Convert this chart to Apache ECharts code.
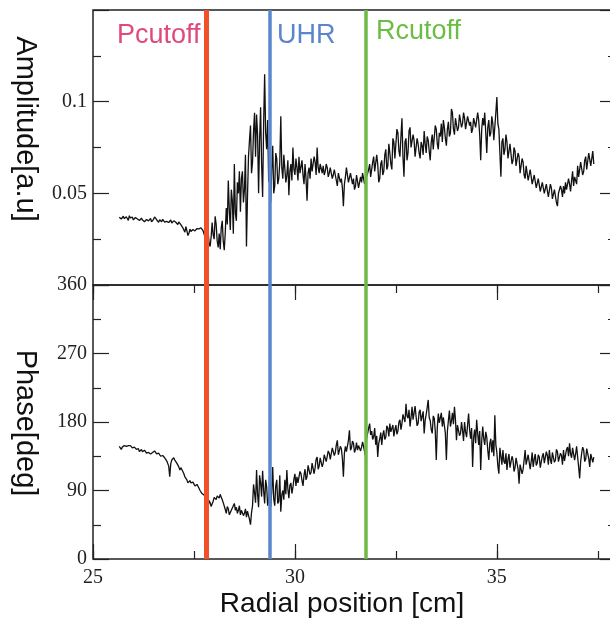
<!DOCTYPE html>
<html>
<head>
<meta charset="utf-8">
<script src="https://cdn.jsdelivr.net/npm/echarts@6/dist/echarts.min.js"></script>
<style>
html,body{margin:0;padding:0;background:#fff;}
#chart{width:610px;height:621px;}
</style>
</head>
<body>
<div id="chart"></div>
<script>
// ---- data (sampled every 0.025 cm starting at 25.65 cm) ----
const radialStart = 25.65;
const radialStep = 0.025;

const amplitude = [
  0.037, 0.0378, 0.036, 0.0368, 0.0375, 0.0362, 0.036, 0.0372, 0.0365, 0.0352,
  0.0378, 0.0366, 0.0362, 0.0370, 0.0355, 0.0348, 0.0368, 0.0359, 0.0360, 0.0366,
  0.0352, 0.0360, 0.0365, 0.0354, 0.0358, 0.0345, 0.0348, 0.0357, 0.0362, 0.0350,
  0.0355, 0.0363, 0.0345, 0.0352, 0.0358, 0.0371, 0.0368, 0.0356, 0.0350, 0.0342,
  0.0356, 0.0349, 0.0345, 0.0358, 0.0352, 0.0343, 0.0340, 0.0347, 0.0355, 0.0341,
  0.0348, 0.0355, 0.0338, 0.0332, 0.0350, 0.0356, 0.0342, 0.0335, 0.0330, 0.0344,
  0.0338, 0.0329, 0.0325, 0.0312, 0.0300, 0.0288, 0.0318, 0.0296, 0.0270, 0.0282,
  0.0305, 0.0292, 0.0285, 0.0303, 0.0310, 0.0295, 0.0298, 0.0308, 0.0315, 0.0306,
  0.0302, 0.0312, 0.0318, 0.0296, 0.0290, 0.0262, 0.0235, 0.0270, 0.0290, 0.0228,
  0.0210, 0.0262, 0.0340, 0.0275, 0.0250, 0.0375, 0.0330, 0.0240, 0.0205, 0.0280,
  0.0195, 0.0310, 0.0350, 0.0240, 0.0190, 0.0285, 0.0420, 0.0330, 0.0570, 0.0410,
  0.0300, 0.0520, 0.0460, 0.0280, 0.0660, 0.0390, 0.0350, 0.0560, 0.0500, 0.0620,
  0.040, 0.058, 0.062, 0.045, 0.052, 0.071, 0.021, 0.048, 0.070, 0.079,
  0.087, 0.061, 0.067, 0.084, 0.094, 0.070, 0.093, 0.082, 0.050, 0.079,
  0.097, 0.066, 0.048, 0.088, 0.115, 0.083, 0.074, 0.090, 0.056, 0.068,
  0.045, 0.063, 0.076, 0.050, 0.054, 0.072, 0.069, 0.055, 0.058, 0.067,
  0.092, 0.064, 0.058, 0.071, 0.070, 0.056, 0.060, 0.068, 0.049, 0.062,
  0.066, 0.057, 0.075, 0.063, 0.060, 0.069, 0.064, 0.057, 0.070, 0.061,
  0.062, 0.068, 0.060, 0.055, 0.066, 0.058, 0.046, 0.061, 0.064, 0.058,
  0.069, 0.062, 0.063, 0.070, 0.067, 0.060, 0.075, 0.064, 0.061, 0.066,
  0.066, 0.061, 0.065, 0.060, 0.062, 0.066, 0.064, 0.059, 0.061, 0.064,
  0.063, 0.058, 0.060, 0.063, 0.062, 0.057, 0.054, 0.061, 0.060, 0.056,
  0.058, 0.053, 0.043, 0.055, 0.059, 0.064, 0.063, 0.056, 0.057, 0.061,
  0.060, 0.055, 0.058, 0.052, 0.054, 0.060, 0.059, 0.053, 0.056, 0.059,
  0.056, 0.061, 0.060, 0.055, 0.054, 0.059, 0.058, 0.063, 0.066, 0.059,
  0.060, 0.067, 0.070, 0.062, 0.061, 0.071, 0.066, 0.056, 0.058, 0.066,
  0.068, 0.060, 0.062, 0.071, 0.074, 0.063, 0.065, 0.077, 0.072, 0.066,
  0.063, 0.080, 0.078, 0.069, 0.068, 0.085, 0.083, 0.073, 0.070, 0.081,
  0.091, 0.070, 0.059, 0.078, 0.080, 0.068, 0.072, 0.084, 0.086, 0.075,
  0.074, 0.082, 0.079, 0.070, 0.071, 0.080, 0.077, 0.072, 0.069, 0.078,
  0.076, 0.071, 0.084, 0.077, 0.072, 0.081, 0.079, 0.073, 0.068, 0.078,
  0.082, 0.074, 0.075, 0.087, 0.085, 0.077, 0.074, 0.083, 0.081, 0.088,
  0.078, 0.090, 0.086, 0.080, 0.076, 0.085, 0.089, 0.081, 0.083, 0.096,
  0.094, 0.085, 0.082, 0.091, 0.090, 0.084, 0.086, 0.093, 0.092, 0.086,
  0.088, 0.094, 0.091, 0.085, 0.086, 0.092, 0.093, 0.087, 0.089, 0.083,
  0.085, 0.091, 0.092, 0.086, 0.087, 0.094, 0.090, 0.082, 0.068, 0.085,
  0.091, 0.087, 0.094, 0.083, 0.072, 0.086, 0.090, 0.081, 0.083, 0.092,
  0.088, 0.079, 0.080, 0.094, 0.1025, 0.088, 0.085, 0.072, 0.059, 0.078,
  0.080, 0.071, 0.074, 0.082, 0.078, 0.069, 0.070, 0.077, 0.076, 0.066,
  0.068, 0.075, 0.073, 0.065, 0.064, 0.072, 0.070, 0.061, 0.062, 0.069,
  0.067, 0.060, 0.058, 0.065, 0.064, 0.057, 0.056, 0.063, 0.062, 0.055,
  0.054, 0.060, 0.060, 0.053, 0.052, 0.058, 0.057, 0.051, 0.050, 0.056,
  0.056, 0.050, 0.051, 0.055, 0.054, 0.048, 0.049, 0.055, 0.053, 0.047,
  0.046, 0.052, 0.051, 0.045, 0.043, 0.050, 0.049, 0.054, 0.052, 0.048,
  0.054, 0.050, 0.056, 0.052, 0.053, 0.058, 0.055, 0.051, 0.057, 0.062,
  0.054, 0.059, 0.060, 0.055, 0.065, 0.059, 0.058, 0.067, 0.066, 0.060,
  0.062, 0.068, 0.070, 0.063, 0.064, 0.072, 0.071, 0.065, 0.066, 0.073, 0.066
];

const phase = [
  148, 146, 144, 147, 146, 149, 150, 148, 147, 149,
  151, 149, 148, 146, 145, 147, 147, 144, 143, 145,
  141, 143, 144, 141, 140, 143, 142, 139, 138, 140,
  141, 138, 137, 140, 139, 142, 141, 138, 136, 139,
  138, 135, 133, 136, 136, 133, 131, 129, 127, 122,
  108, 125, 130, 132, 133, 130, 128, 126, 124, 121,
  117, 120, 119, 115, 112, 108, 106, 104, 100, 102,
  103, 100, 98, 101, 99, 96, 95, 98, 97, 93,
  90, 88, 86, 85, 84, 82, 80, 72, 68, 77,
  74, 69, 70, 76, 81, 79, 78, 83, 84, 80,
  85, 81, 78, 74, 72, 65, 60, 69, 66, 58,
  56, 64, 62, 70, 73, 64, 68, 60, 64, 70,
  58, 64, 66, 57, 60, 66, 55, 63, 62, 52,
  45, 61, 70, 98, 87, 74, 117, 85, 68, 110,
  100, 82, 116, 90, 73, 104, 95, 70, 76, 112,
  68, 88, 121, 79, 70, 96, 104, 73, 76, 110,
  62, 84, 90, 78, 104, 85, 117, 92, 80, 97,
  100, 86, 94, 105, 112, 96, 108, 100, 98, 115,
  112, 103, 96, 110, 118, 104, 108, 123, 121, 111,
  114, 126, 127, 112, 120, 131, 134, 118, 122, 133,
  131, 121, 126, 137, 138, 128, 130, 142, 139, 131,
  133, 146, 145, 136, 140, 150, 156, 137, 138, 148,
  145, 132, 108, 139, 148, 141, 140, 156, 169, 143,
  146, 155, 152, 140, 144, 153, 143, 149, 150, 142,
  147, 154, 152, 141, 134, 158, 160, 172, 178, 163,
  168, 157, 161, 172, 150, 162, 134, 152, 158, 166,
  150, 163, 169, 157, 160, 175, 172, 161, 178, 167,
  165, 176, 161, 170, 176, 164, 168, 180, 183, 170,
  178, 190, 191, 180, 204, 188, 185, 196, 174, 186,
  200, 183, 192, 201, 187, 175, 178, 193, 196, 181,
  180, 194, 165, 182, 190, 199, 209, 186, 182, 170,
  165, 188, 185, 168, 130, 172, 191, 179, 178, 192,
  174, 186, 188, 165, 130, 168, 182, 195, 174, 181,
  192, 177, 200, 183, 156, 176, 178, 162, 165, 180,
  169, 155, 180, 167, 160, 176, 191, 170, 158, 172,
  121, 160, 170, 152, 183, 165, 150, 168, 117, 155,
  174, 158, 150, 167, 160, 143, 130, 152, 158, 140,
  156, 135, 189, 150, 140, 122, 112, 146, 135, 124,
  143, 128, 125, 139, 117, 131, 138, 120, 122, 135,
  130, 115, 120, 133, 134, 118, 99, 124, 126, 112,
  118, 130, 143, 124, 125, 137, 136, 118, 128, 140,
  121, 131, 138, 123, 126, 137, 134, 120, 122, 135,
  139, 126, 128, 141, 136, 124, 143, 131, 125, 140,
  138, 127, 130, 144, 141, 128, 127, 139, 136, 124,
  143, 129, 131, 144, 147, 135, 152, 138, 133, 146,
  145, 130, 138, 148, 134, 121, 106, 128, 139, 147,
  143, 128, 131, 145, 147, 132, 121, 138, 140, 127, 134
];

const cutoffNames = ['Pcutoff', 'UHR', 'Rcutoff'];
const cutoffPositions = [27.8, 29.38, 31.76];

const ampTickLabels = ['0.05', '0.1'];
const phaseTickLabels = ['0', '90', '180', '270', '360'];
const radialTickLabels = ['25', '30', '35'];

// ---- styles ----
const lineColors = ['#f2502a', '#5a87cc', '#6fba46'];
const lineWidths = [5, 3.5, 3.5];
const textColors = ['#e0497c', '#5b86cc', '#6cbd44'];
const serif = 'Liberation Serif';
const sans = 'Liberation Sans';
const axisColor = '#222';

const radial = amplitude.map((_, i) => +(radialStart + i * radialStep).toFixed(3));
const ampData = amplitude.map((v, i) => [radial[i], v]);
const phaseData = phase.map((v, i) => [radial[i], v]);

const X_MIN = 25, X_MAX = 37.95;

function markLines() {
  return {
    silent: true,
    symbol: 'none',
    animation: false,
    label: { show: false },
    data: cutoffPositions.map((x, i) => ({
      xAxis: x,
      lineStyle: { color: lineColors[i], width: lineWidths[i], type: 'solid' }
    }))
  };
}

function xAx(grid, pos, interval, len, extra) {
  return Object.assign({
    type: 'value', gridIndex: grid, position: pos, min: X_MIN, max: X_MAX,
    interval: interval,
    axisLine: { show: false },
    axisTick: { show: len > 0, inside: true, length: len, lineStyle: { color: axisColor, width: 1.2 } },
    axisLabel: { show: false },
    splitLine: { show: false }
  }, extra || {});
}

function yAx(grid, pos, min, max, interval, showLabels, fmt) {
  return {
    type: 'value', gridIndex: grid, position: pos, min: min, max: max, interval: interval,
    axisLine: { show: false },
    axisTick: { show: true, inside: true, length: 16, lineStyle: { color: axisColor, width: 1.2 } },
    minorTick: { show: true, splitNumber: 2, length: 8, lineStyle: { color: axisColor, width: 1.2 } },
    axisLabel: {
      show: showLabels, margin: 6, color: axisColor,
      fontFamily: serif, fontSize: 20, formatter: fmt
    },
    splitLine: { show: false },
    minorSplitLine: { show: false }
  };
}

const chart = echarts.init(document.getElementById('chart'), null, { renderer: 'canvas' });

chart.setOption({
  animation: false,
  backgroundColor: '#fff',
  grid: [
    { left: 93, top: 10, width: 523, height: 275, show: true, borderColor: axisColor, borderWidth: 1.5,
      backgroundColor: 'transparent', containLabel: false, outerBoundsMode: 'none' },
    { left: 93, top: 285, width: 523, height: 274, show: true, borderColor: axisColor, borderWidth: 1.5,
      backgroundColor: 'transparent', containLabel: false, outerBoundsMode: 'none' }
  ],
  xAxis: [
    xAx(0, 'bottom', 5, 0),
    xAx(1, 'bottom', 5, 15, {
      axisLabel: {
        show: true, margin: 9, color: axisColor, fontFamily: serif, fontSize: 20,
        formatter: v => radialTickLabels.find(t => Math.abs(+t - v) < 1e-6) || ''
      }
    }),
    xAx(1, 'bottom', 2.5, 8),
    xAx(1, 'top', 5, 15),
    xAx(1, 'top', 2.5, 8)
  ],
  yAxis: [
    yAx(0, 'left', 0, 0.15, 0.05, true, v => ampTickLabels.find(t => Math.abs(+t - v) < 1e-9) || ''),
    yAx(0, 'right', 0, 0.15, 0.05, false),
    yAx(1, 'left', 0, 360, 90, true, v => phaseTickLabels.find(t => Math.abs(+t - v) < 1e-9) || ''),
    yAx(1, 'right', 0, 360, 90, false)
  ],
  series: [
    {
      type: 'line', xAxisIndex: 0, yAxisIndex: 0, data: ampData,
      showSymbol: false, symbol: 'none',
      lineStyle: { color: '#111', width: 1.3 },
      markLine: markLines()
    },
    {
      type: 'line', xAxisIndex: 1, yAxisIndex: 2, data: phaseData,
      showSymbol: false, symbol: 'none',
      lineStyle: { color: '#111', width: 1.3 },
      markLine: markLines()
    }
  ]
});

// Text annotations positioned from the axis scale
const px = x => chart.convertToPixel({ xAxisIndex: 0 }, x);
const labelOffsets = [{ dx: -3, align: 'right', y: 36 }, { dx: 7, align: 'left', y: 36 }, { dx: 10, align: 'left', y: 32 }];
const graphics = cutoffNames.map((name, i) => ({
  type: 'text',
  z: 100,
  style: {
    text: name,
    x: px(cutoffPositions[i]) + labelOffsets[i].dx - (i === 0 ? lineWidths[0] / 2 : 0),
    y: labelOffsets[i].y,
    fill: textColors[i],
    font: '27px "' + sans + '"',
    textAlign: labelOffsets[i].align,
    textVerticalAlign: 'middle'
  }
}));
graphics.push(
  { type: 'text', x: 25, y: 129, rotation: -Math.PI / 2,
    style: { text: 'Amplitude[a.u]', font: '29px "' + sans + '"', fill: '#111', textAlign: 'center', textVerticalAlign: 'middle' } },
  { type: 'text', x: 25, y: 423, rotation: -Math.PI / 2,
    style: { text: 'Phase[deg]', font: '29px "' + sans + '"', fill: '#111', textAlign: 'center', textVerticalAlign: 'middle' } },
  { type: 'text', x: 342, y: 604,
    style: { text: 'Radial position [cm]', font: '28px "' + sans + '"', fill: '#111', textAlign: 'center', textVerticalAlign: 'middle' } }
);
chart.setOption({ graphic: graphics });
</script>
</body>
</html>
